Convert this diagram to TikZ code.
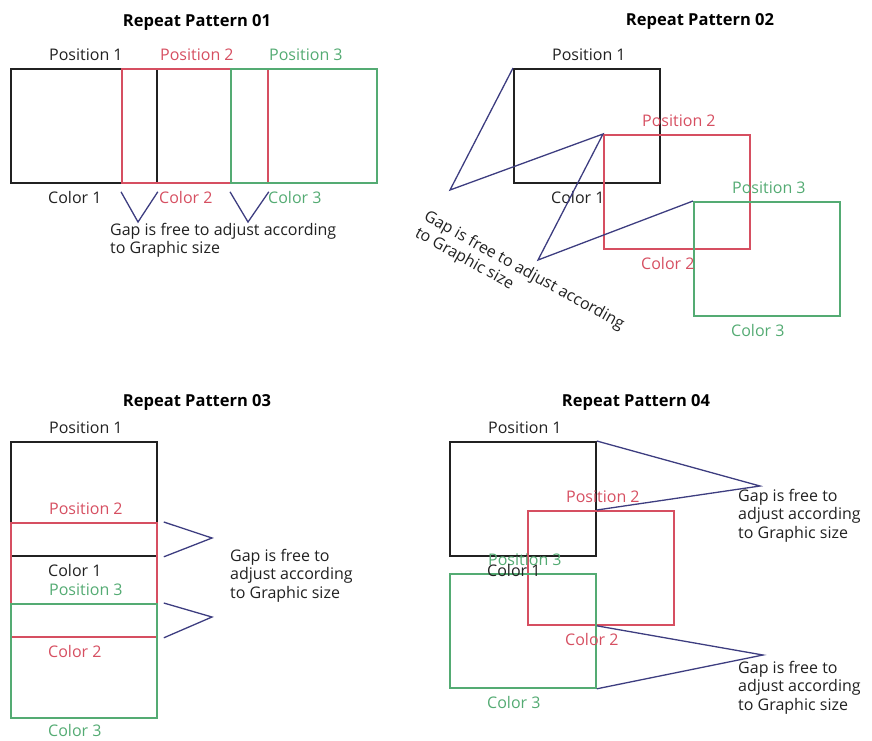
\documentclass[tikz,border=0pt]{standalone}
\usepackage{fontspec}
\setmainfont{Open Sans}
\usetikzlibrary{positioning}
\definecolor{patblack}{rgb}{0.13, 0.13, 0.13}
\definecolor{patred}{rgb}{0.84, 0.31, 0.38}
\definecolor{patgreen}{rgb}{0.33, 0.67, 0.45}
\definecolor{patblue}{rgb}{0.24, 0.24, 0.5}

\begin{document}
\begin{tikzpicture}[
	x=1pt, y=-1pt,
	texts/.style = {text=patblack, font=\fontsize{16}{18.5}\selectfont},
	titletexts/.style = {text=black, font=\fontsize{16.5}{18}\selectfont\bfseries},
	frame/.style = {draw, line width=1.8pt, anchor=north west, inner sep=0pt, minimum width=146pt, minimum height=114pt},
	first/.style = {frame, draw=patblack},
	second/.style = {frame, draw=patred},
	third/.style = {frame, draw=patgreen},
	poslabel/.style = {texts, inner sep=1pt, xshift=2pt},
	colorlabel/.style = {texts, inner sep=1pt},
	gapline/.style = {draw=patblue, line width=1.3pt},
	gaptext/.style = {texts, align=left, anchor=north west, inner sep=0pt}
]
	\useasboundingbox (0,0) rectangle (872,740);

	% Repeat Pattern 01
	\node[titletexts] (title1) at (197,22) {Repeat Pattern 01};
	\node[first] (a1) at (10,68) {};
	\node[second] (b1) at (121,68) {};
	\node[third] (c1) at (230,68) {};
	\node[poslabel, above=6pt of a1] (a1pos) {Position 1};
	\node[poslabel, above=6pt of b1, text=patred] (b1pos) {Position 2};
	\node[poslabel, above=6pt of c1, text=patgreen] (c1pos) {Position 3};
	\node[colorlabel, below right=6pt and 37pt of a1.south west] (a1col) {Color 1};
	\node[colorlabel, below right=6pt and 37pt of b1.south west, text=patred] (b1col) {Color 2};
	\node[colorlabel, below right=6pt and 37pt of c1.south west, text=patgreen] (c1col) {Color 3};
	\coordinate (v1) at (138,222);
	\coordinate (v2) at (248,222);
	\draw[gapline] ([yshift=-8pt]b1.south west) -- (v1) -- ([yshift=-8pt]a1.south east);
	\draw[gapline] ([yshift=-8pt]c1.south west) -- (v2) -- ([yshift=-8pt]b1.south east);
	\node[gaptext] (gap1) at (110,223) {Gap is free to adjust according\\to Graphic size};

	% Repeat Pattern 02
	\node[titletexts] (title2) at (700,21) {Repeat Pattern 02};
	\node[first] (a2) at (513,68) {};
	\node[second] (b2) at (603,134) {};
	\node[third] (c2) at (693,201) {};
	\node[poslabel, above=6pt of a2] (a2pos) {Position 1};
	\node[poslabel, above=6pt of b2, text=patred] (b2pos) {Position 2};
	\node[poslabel, above=6pt of c2, text=patgreen] (c2pos) {Position 3};
	\node[colorlabel, below right=6pt and 37pt of a2.south west] (a2col) {Color 1};
	\node[colorlabel, below right=6pt and 37pt of b2.south west, text=patred] (b2col) {Color 2};
	\node[colorlabel, below right=6pt and 37pt of c2.south west, text=patgreen] (c2col) {Color 3};
	\coordinate (v3) at (450,190);
	\coordinate (v4) at (538,260);
	\draw[gapline] (a2.north west) -- (v3) -- (b2.north west) -- (v4) -- (c2.north west);
	\node[gaptext, rotate=-29] (gap2) at (429,209) {Gap is free to adjust according\\to Graphic size};

	% Repeat Pattern 03
	\node[titletexts] (title3) at (197,402) {Repeat Pattern 03};
	\node[first] (a3) at (10,441) {};
	\node[second] (b3) at (10,522) {};
	\node[third] (c3) at (10,603) {};
	\node[poslabel, above=6pt of a3] (a3pos) {Position 1};
	\node[poslabel, above=6pt of b3, text=patred] (b3pos) {Position 2};
	\node[poslabel, above=6pt of c3, text=patgreen] (c3pos) {Position 3};
	\node[colorlabel, below right=6pt and 37pt of a3.south west] (a3col) {Color 1};
	\node[colorlabel, below right=6pt and 37pt of b3.south west, text=patred] (b3col) {Color 2};
	\node[colorlabel, below right=4pt and 37pt of c3.south west, text=patgreen] (c3col) {Color 3};
	\coordinate (v5) at (212,538);
	\coordinate (v6) at (212,617);
	\draw[gapline] ([xshift=6pt]b3.north east) -- (v5) -- ([xshift=6pt]a3.south east);
	\draw[gapline] ([xshift=6pt]c3.north east) -- (v6) -- ([xshift=6pt]b3.south east);
	\node[gaptext] (gap3) at (230,549) {Gap is free to\\adjust according\\to Graphic size};

	% Repeat Pattern 04
	\node[titletexts] (title4) at (636,402) {Repeat Pattern 04};
	\node[first] (a4) at (449,441) {};
	\node[second] (b4) at (527,510) {};
	\node[third] (c4) at (449,573) {};
	\node[poslabel, above=6pt of a4] (a4pos) {Position 1};
	\node[poslabel, above=6pt of b4, text=patred] (b4pos) {Position 2};
	\node[poslabel, above=6pt of c4, text=patgreen] (c4pos) {Position 3};
	\node[colorlabel, below right=6pt and 37pt of a4.south west] (a4col) {Color 1};
	\node[colorlabel, below right=6pt and 37pt of b4.south west, text=patred] (b4col) {Color 2};
	\node[colorlabel, below right=6pt and 37pt of c4.south west, text=patgreen] (c4col) {Color 3};
	\coordinate (v7) at (760,486);
	\coordinate (v8) at (763,655);
	\draw[gapline] (a4.north east) -- (v7) -- (a4.east |- b4.north);
	\draw[gapline] (c4.east |- b4.south) -- (v8) -- (c4.south east);
	\node[gaptext] (gap4) at (738,489) {Gap is free to\\adjust according\\to Graphic size};
	\node[gaptext] (gap5) at (738,661) {Gap is free to\\adjust according\\to Graphic size};
\end{tikzpicture}
\end{document}
